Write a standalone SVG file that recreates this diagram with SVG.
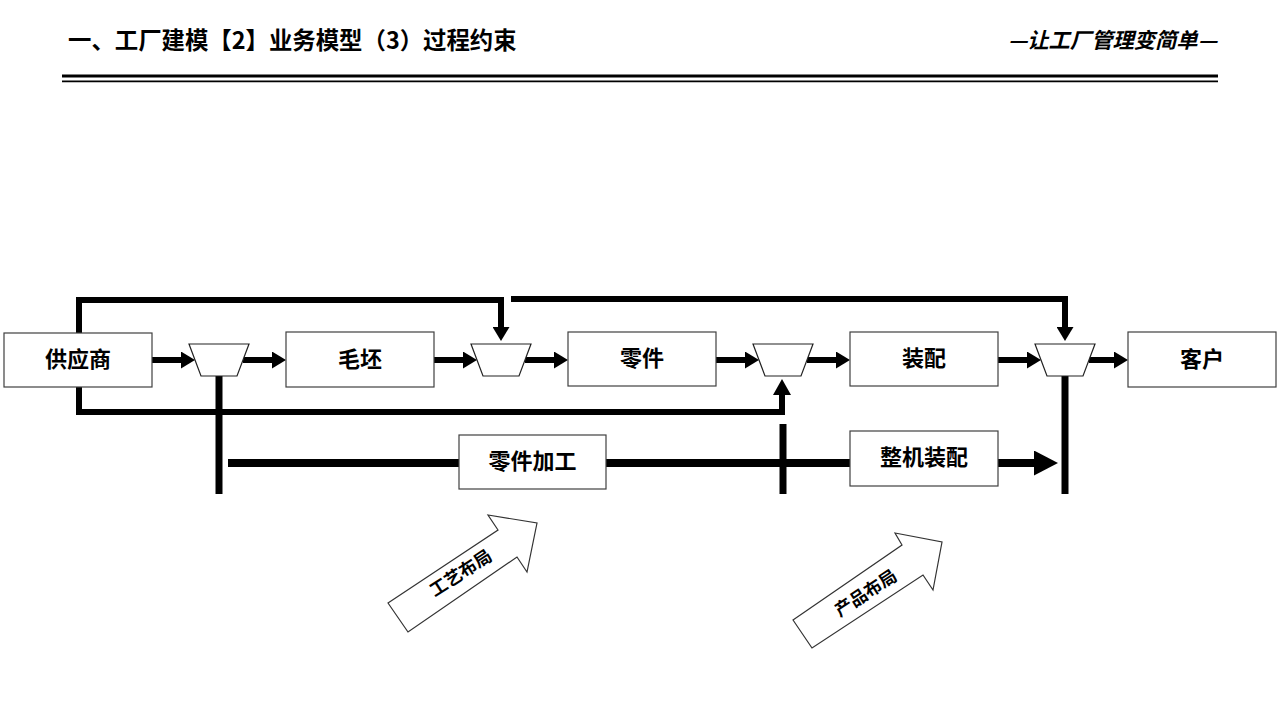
<svg xmlns="http://www.w3.org/2000/svg" width="1280" height="720" viewBox="0 0 1280 720">
<defs>
<style>
.box{fill:#fff;stroke:#404040;stroke-width:1.2}
.trap{fill:#fff;stroke:#222;stroke-width:1.2}
.lbl{font-family:"Noto Sans CJK SC","Microsoft YaHei",sans-serif;font-weight:bold;font-size:22px;fill:#000;text-anchor:middle;dominant-baseline:central}
.flow{fill:none;stroke:#000;stroke-width:6;stroke-linejoin:miter}
.bar{fill:none;stroke:#000;stroke-width:7}
.big{fill:#fff;stroke:#333;stroke-width:1.2;stroke-linejoin:miter}
.blbl{font-family:"Noto Sans CJK SC","Microsoft YaHei",sans-serif;font-weight:bold;font-size:17.5px;fill:#000;text-anchor:middle;dominant-baseline:central}
</style>
<marker id="ah" viewBox="0 0 14 17" refX="0" refY="8.5" markerWidth="14" markerHeight="17" markerUnits="userSpaceOnUse" orient="auto">
<path d="M0,0 L14,8.5 L0,17 Z" fill="#000"/>
</marker>
<marker id="ahv" viewBox="0 0 16 18" refX="0" refY="9" markerWidth="16" markerHeight="18" markerUnits="userSpaceOnUse" orient="auto">
<path d="M0,0 L16,9 L0,18 Z" fill="#000"/>
</marker>
<marker id="ahb" viewBox="0 0 24 25" refX="0" refY="12.5" markerWidth="24" markerHeight="25" markerUnits="userSpaceOnUse" orient="auto">
<path d="M0,0 L24,12.5 L0,25 Z" fill="#000"/>
</marker>
</defs>
<rect width="1280" height="720" fill="#fff"/>

<g id="header">
<text x="68" y="49" font-family="'Noto Sans CJK SC','Microsoft YaHei',sans-serif" font-weight="bold" font-size="23.4" fill="#000">一、工厂建模【2】业务模型（3）过程约束</text>
<text x="1217" y="48" font-family="'Noto Sans CJK SC','Microsoft YaHei',sans-serif" font-weight="bold" font-style="italic" font-size="21.3" fill="#000" text-anchor="end">—让工厂管理变简单—</text>
<line x1="62" y1="76" x2="1218" y2="76" stroke="#000" stroke-width="3"/>
<line x1="62" y1="81.3" x2="1218" y2="81.3" stroke="#000" stroke-width="1.8"/>
</g>

<g id="connectors">
<path class="flow" d="M79,333 V300 H501 V327" marker-end="url(#ah)"/>
<path class="flow" d="M511,299 H1065 V327" marker-end="url(#ah)"/>
<path class="flow" d="M79,387 V412 H782 V395" marker-end="url(#ahv)"/>
<line class="flow" x1="152" y1="360" x2="181" y2="360" marker-end="url(#ah)"/>
<line class="flow" x1="243" y1="360" x2="272" y2="360" marker-end="url(#ah)"/>
<line class="flow" x1="434" y1="360" x2="463" y2="360" marker-end="url(#ah)"/>
<line class="flow" x1="525" y1="360" x2="554" y2="360" marker-end="url(#ah)"/>
<line class="flow" x1="716" y1="360" x2="745" y2="360" marker-end="url(#ah)"/>
<line class="flow" x1="807" y1="360" x2="836" y2="360" marker-end="url(#ah)"/>
<line class="flow" x1="998" y1="360" x2="1027" y2="360" marker-end="url(#ah)"/>
<line class="flow" x1="1089" y1="360" x2="1114" y2="360" marker-end="url(#ah)"/>
<line class="bar" x1="219" y1="376" x2="219" y2="494"/>
<line class="bar" x1="783" y1="424" x2="783" y2="494"/>
<line class="bar" x1="1065" y1="376" x2="1065" y2="494"/>
<line x1="228" y1="463" x2="1034" y2="463" stroke="#000" stroke-width="8" marker-end="url(#ahb)"/>
</g>

<g id="supplier"><rect class="box" x="4" y="333" width="148" height="54"/><text class="lbl" x="78" y="357">供应商</text></g>
<g id="blank"><rect class="box" x="286" y="332" width="148" height="55"/><text class="lbl" x="360" y="357">毛坯</text></g>
<g id="part"><rect class="box" x="568" y="332" width="148" height="54"/><text class="lbl" x="642" y="356">零件</text></g>
<g id="assembly"><rect class="box" x="850" y="332" width="148" height="54"/><text class="lbl" x="924" y="356">装配</text></g>
<g id="customer"><rect class="box" x="1128" y="332" width="148" height="55"/><text class="lbl" x="1202" y="357">客户</text></g>

<g id="trap1"><polygon class="trap" points="189,344 249,344 237,376 201,376"/></g>
<g id="trap2"><polygon class="trap" points="471,344 531,344 519,376 483,376"/></g>
<g id="trap3"><polygon class="trap" points="753,344 813,344 801,376 765,376"/></g>
<g id="trap4"><polygon class="trap" points="1035,344 1095,344 1083,376 1047,376"/></g>

<g id="partMachining"><rect class="box" x="459" y="435" width="147" height="54"/><text class="lbl" x="532.5" y="459">零件加工</text></g>
<g id="finalAssembly"><rect class="box" x="850" y="431" width="148" height="55"/><text class="lbl" x="924" y="455">整机装配</text></g>

<g id="processLayout">
<polygon class="big" points="388,603 498,530 488,515 537,523 527,572 517,557 408,632"/>
<text class="blbl" transform="translate(460,572) rotate(-33)">工艺布局</text>
</g>
<g id="productLayout">
<polygon class="big" points="793,620 902,545 895,533 942,542 933,590 923,575 812,648"/>
<text class="blbl" transform="translate(865,592) rotate(-33)">产品布局</text>
</g>
</svg>
